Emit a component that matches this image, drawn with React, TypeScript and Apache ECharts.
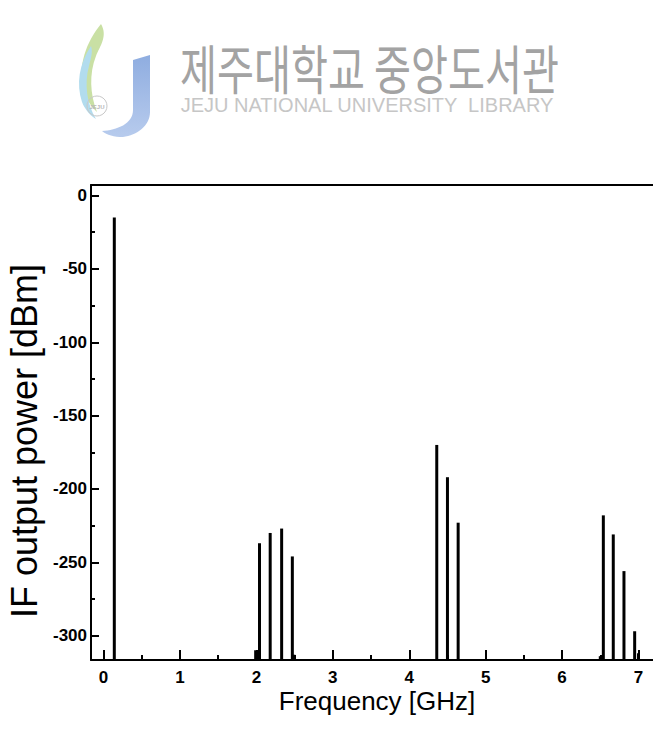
import React, { useEffect, useRef } from "react";
import * as echarts from "echarts";

// Spectral lines of the IF output: frequency [GHz] and power [dBm]
const frequencyGHz = [0.14, 1.99, 2.04, 2.18, 2.33, 2.47, 2.49, 4.36, 4.5, 4.64, 6.5, 6.54, 6.67, 6.81, 6.95, 7.0];
const powerDbm = [-15, -310, -237, -230, -227, -246, -313, -170, -192, -223, -314, -218, -231, -256, -297, -312];

// Axis ticks
const xMajorTicks = [0, 1, 2, 3, 4, 5, 6, 7];
const xMinorTicks = [0.5, 1.5, 2.5, 3.5, 4.5, 5.5, 6.5];
const yMajorTicks = [0, -50, -100, -150, -200, -250, -300];
const yMinorTicks = [-25, -75, -125, -175, -225, -275];

const X_MIN = -0.165;
const X_MAX = 7.19;
const Y_MIN = -316.6;
const Y_MAX = 7.2;

// Library logo shapes
const J_PATH = "M57 36 L74 31 L74 88 C74 102 61 111 47 113 C38 113 31 111 26 107 C41 106 57 100 57 86 Z";
const GREEN_PATH = "M25 0 C10 18 2 42 7 64 C9 74 15 82 21 88 C14 70 13 50 20 32 C24 22 32 12 25 0 Z";
const CYAN_PATH = "M15 22 C3 40 0 60 6 78 C9 86 15 92 20 95 C11 80 8 60 13 42 C15 34 17 28 15 22 Z";

echarts.graphic.registerShape("libJ", echarts.graphic.extendPath(J_PATH, {}));
echarts.graphic.registerShape("libGreen", echarts.graphic.extendPath(GREEN_PATH, {}));
echarts.graphic.registerShape("libCyan", echarts.graphic.extendPath(CYAN_PATH, {}));

const FONT = "'Liberation Sans', Arial, Helvetica, sans-serif";
const TICK_FONT = "'Liberation Sans Narrow', 'Liberation Sans', Arial, sans-serif";

export default function App() {
  const ref = useRef<HTMLDivElement>(null);

  useEffect(() => {
    if (!ref.current) return;
    const chart = echarts.init(ref.current, null, { renderer: "svg" });
    const line = { color: "#000", width: 2 };
    const base = {
      type: "value" as const,
      min: X_MIN,
      max: X_MAX,
      splitLine: { show: false },
    };
    const yBase = {
      type: "value" as const,
      min: Y_MIN,
      max: Y_MAX,
      splitLine: { show: false },
    };

    chart.setOption({
      animation: false,
      backgroundColor: "#fff",
      grid: { left: 91, right: 0, top: 185, bottom: 80, outerBoundsMode: "none" },
      xAxis: [
        {
          ...base,
          position: "bottom",
          axisLine: { show: true, onZero: false, lineStyle: line },
          axisTick: { show: true, inside: true, length: 10, lineStyle: line, customValues: xMajorTicks },
          axisLabel: {
            customValues: xMajorTicks,
            margin: 9,
            color: "#000",
            fontSize: 17,
            fontWeight: "bold",
            fontFamily: TICK_FONT,
          },
        },
        {
          ...base,
          position: "bottom",
          axisLine: { show: false, onZero: false },
          axisTick: { show: true, inside: true, length: 5, lineStyle: line, customValues: xMinorTicks },
          axisLabel: { show: false },
        },
        {
          ...base,
          position: "top",
          axisLine: { show: true, onZero: false, lineStyle: line },
          axisTick: { show: false },
          axisLabel: { show: false },
        },
      ],
      yAxis: [
        {
          ...yBase,
          position: "left",
          axisLine: { show: true, onZero: false, lineStyle: line },
          axisTick: { show: true, inside: true, length: 8, lineStyle: line, customValues: yMajorTicks },
          axisLabel: {
            customValues: yMajorTicks,
            margin: 4,
            color: "#000",
            fontSize: 17,
            fontWeight: "bold",
            fontFamily: TICK_FONT,
          },
        },
        {
          ...yBase,
          position: "left",
          axisLine: { show: false, onZero: false },
          axisTick: { show: true, inside: true, length: 4, lineStyle: line, customValues: yMinorTicks },
          axisLabel: { show: false },
        },
      ],
      series: [
        {
          type: "custom",
          xAxisIndex: 0,
          yAxisIndex: 0,
          data: frequencyGHz.map((f, i) => [f, powerDbm[i]]),
          renderItem: (_params: any, api: any) => {
            const top = api.coord([api.value(0), api.value(1)]);
            const bottom = api.coord([api.value(0), Y_MIN]);
            return {
              type: "rect",
              shape: { x: top[0] - 1.5, y: top[1], width: 3, height: bottom[1] - top[1] },
              style: { fill: "#000" },
            };
          },
        },
      ],
      graphic: [
        { type: "libGreen", x: 76, y: 24, style: { fill: "#c9e0a4" }, silent: true },
        { type: "libCyan", x: 76, y: 24, style: { fill: "#b2dcee" }, silent: true },
        {
          type: "libJ",
          x: 76,
          y: 24,
          style: {
            fill: new echarts.graphic.LinearGradient(0, 0, 0, 1, [
              { offset: 0, color: "#8fade0" },
              { offset: 1, color: "#b7cbed" },
            ]),
          },
          silent: true,
        },
        {
          type: "circle",
          shape: { cx: 97, cy: 106, r: 10 },
          style: { fill: "none", stroke: "#c8c8c8", lineWidth: 1 },
          silent: true,
        },
        {
          type: "text",
          x: 97,
          y: 107,
          style: {
            text: "JEJU",
            fill: "#b8b8b8",
            fontSize: 6,
            fontWeight: "bold",
            fontFamily: FONT,
            align: "center",
            verticalAlign: "middle",
          },
          silent: true,
        },
        {
          type: "text",
          x: 180,
          y: 67,
          scaleX: 0.745,
          style: {
            text: "제주대학교 중앙도서관",
            fill: "#a3a3a3",
            fontSize: 54,
            fontFamily: "'Noto Sans CJK KR', sans-serif",
            align: "left",
            verticalAlign: "middle",
          },
          silent: true,
        },
        {
          type: "text",
          x: 367,
          y: 105,
          style: {
            text: "JEJU NATIONAL UNIVERSITY  LIBRARY",
            fill: "#c6c6c6",
            fontSize: 20,
            fontFamily: FONT,
            align: "center",
            verticalAlign: "middle",
          },
          silent: true,
        },
        {
          type: "text",
          x: 24,
          y: 441,
          rotation: Math.PI / 2,
          style: {
            text: "IF output power [dBm]",
            fill: "#000",
            fontSize: 36,
            fontFamily: FONT,
            align: "center",
            verticalAlign: "middle",
          },
          silent: true,
        },
        {
          type: "text",
          x: 377,
          y: 701,
          style: {
            text: "Frequency [GHz]",
            fill: "#000",
            fontSize: 26,
            fontFamily: FONT,
            align: "center",
            verticalAlign: "middle",
          },
          silent: true,
        },
      ],
    });

    return () => chart.dispose();
  }, []);

  return (
    <div
      ref={ref}
      style={{ position: "fixed", left: 0, top: 0, width: 653, height: 740, background: "#fff" }}
    />
  );
}
